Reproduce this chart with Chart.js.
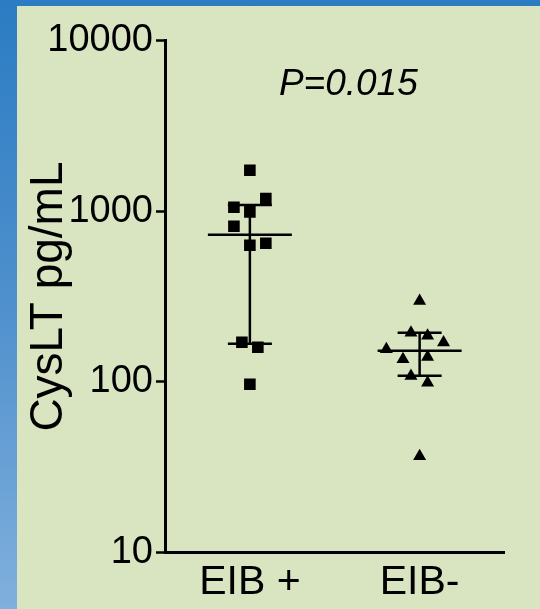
<!DOCTYPE html>
<html>
<head>
<meta charset="utf-8">
<script src="https://cdn.jsdelivr.net/npm/chart.js@4.4.1/dist/chart.umd.min.js"></script>
<style>
  html, body { margin: 0; padding: 0; }
  body {
    width: 540px; height: 609px; overflow: hidden;
    background: linear-gradient(to bottom, #2b7cc3 0%, #4f90cd 50%, #80b0dd 100%);
    position: relative;
  }
  #panel {
    position: absolute; left: 17px; top: 6px; width: 523px; height: 603px;
    background: #d9e4c0;
  }
</style>
</head>
<body>
<div id="panel"><canvas id="chart"></canvas></div>
<script>
// groups on the x axis
const groupLabels = ['EIB +', 'EIB-'];
const groupPos = [1, 2];

// CysLT values (pg/mL)
const eibPos = [1739, 1186, 1055, 991, 817, 649, 632, 170.7, 159.6, 96.8];
const eibPosJitter = [0, 0.094, -0.094, 0, -0.094, 0.094, 0, -0.047, 0.047, 0];
const eibNeg = [297.6, 194.0, 186.1, 170.0, 155.5, 135.9, 140.0, 108.4, 98.8, 36.7];
const eibNegJitter = [0, -0.051, 0.047, 0.141, -0.196, -0.098, 0.047, -0.051, 0.047, 0];

// median with interquartile range
const medians = [729, 152.4];
const q1 = [167.5, 108.7];
const q3 = [1089, 194.3];

const yTicks = [10, 100, 1000, 10000];
const pText = 'P=0.015';

const FONT = "'Liberation Sans', Arial, Helvetica, sans-serif";

function toPoints(vals, jitter, pos) {
    return vals.map((v, i) => ({x: pos + jitter[i], y: v}));
}

const summaryLines = {
    id: 'summaryLines',
    beforeDatasetsDraw(chart) {
        const {ctx, scales: {x, y}} = chart;
        ctx.save();
        ctx.strokeStyle = '#000';
        ctx.lineWidth = 2.5;
        const seg = (x1, y1, x2, y2) => {
            ctx.beginPath(); ctx.moveTo(x1, y1); ctx.lineTo(x2, y2); ctx.stroke();
        };
        groupPos.forEach((g, i) => {
            const cx = x.getPixelForValue(g);
            const ym = y.getPixelForValue(medians[i]);
            const yl = y.getPixelForValue(q1[i]);
            const yh = y.getPixelForValue(q3[i]);
            seg(cx, yh, cx, yl);
            seg(cx - 42, ym, cx + 42, ym);
            seg(cx - 22, yl, cx + 22, yl);
            seg(cx - 22, yh, cx + 22, yh);
        });
        ctx.restore();
    }
};

const pLabel = {
    id: 'pLabel',
    afterDraw(chart) {
        const {ctx, chartArea} = chart;
        ctx.save();
        ctx.font = 'italic 37px ' + FONT;
        ctx.fillStyle = '#000';
        ctx.textAlign = 'center';
        ctx.textBaseline = 'alphabetic';
        ctx.fillText(pText, chartArea.left + 0.54 * (chartArea.right - chartArea.left), chartArea.top + 54);
        ctx.restore();
    }
};

new Chart(document.getElementById('chart'), {
    type: 'scatter',
    data: {
        datasets: [
            {
                label: groupLabels[0],
                data: toPoints(eibPos, eibPosJitter, groupPos[0]),
                pointStyle: 'rect',
                pointRadius: 8.2,
                backgroundColor: '#000',
                borderColor: '#000',
                borderWidth: 0
            },
            {
                label: groupLabels[1],
                data: toPoints(eibNeg, eibNegJitter, groupPos[1]),
                pointStyle: 'triangle',
                pointRadius: 7.5,
                backgroundColor: '#000',
                borderColor: '#000',
                borderWidth: 0
            }
        ]
    },
    options: {
        responsive: true,
        maintainAspectRatio: false,
        animation: false,
        events: [],
        layout: {padding: {top: 34.6, right: 35.5, left: 0, bottom: 0}},
        plugins: {legend: {display: false}, tooltip: {enabled: false}},
        scales: {
            x: {
                type: 'linear',
                min: 0.5,
                max: 2.5,
                afterBuildTicks: s => { s.ticks = groupPos.map(v => ({value: v})); },
                afterFit: s => { s.height = 56.5; },
                ticks: {
                    color: '#000',
                    font: {family: FONT, size: 41},
                    padding: 6,
                    maxRotation: 0,
                    callback: (v, i) => groupLabels[i]
                },
                grid: {display: true, drawOnChartArea: false, drawTicks: false},
                border: {display: true, color: '#000', width: 3}
            },
            y: {
                type: 'logarithmic',
                min: 10,
                max: 10000,
                afterBuildTicks: s => { s.ticks = yTicks.map(v => ({value: v})); },
                afterFit: s => { s.width = 148; },
                ticks: {
                    color: '#000',
                    font: {family: FONT, size: 38},
                    padding: 3,
                    callback: v => String(v)
                },
                grid: {display: true, drawOnChartArea: false, drawTicks: true, tickLength: 9, tickWidth: 2.5, tickColor: '#000'},
                border: {display: true, color: '#000', width: 3},
                title: {
                    display: true,
                    text: 'CysLT pg/mL',
                    color: '#000',
                    font: {family: FONT, size: 46},
                    padding: {top: 5, bottom: 0}
                }
            }
        }
    },
    plugins: [summaryLines, pLabel]
});
</script>
</body>
</html>
